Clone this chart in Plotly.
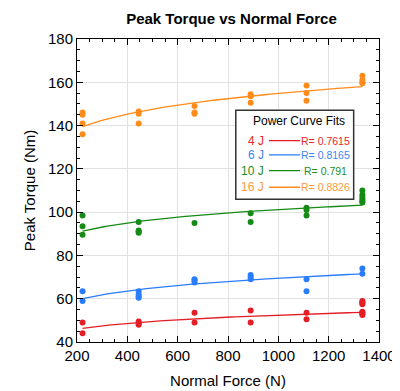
import numpy as np
import plotly.graph_objects as go

# ---- data ----
force_levels = [222, 445, 667, 890, 1112, 1334]

torque_4J = [[49, 44], [49.5, 48.5, 48], [53.5, 49], [54.5, 49], [53.5, 50.5],
             [59, 58.5, 58, 57.5, 54, 53.5, 53, 52.5]]
torque_6J = [[63.5, 59], [63.5, 62, 61, 60.5], [69, 68.5, 67.5], [71, 70, 69], [69, 63.5],
             [74, 71.5]]
torque_10J = [[98.5, 93.5, 89.5], [95.5, 91.5, 91, 90.5], [95], [99.5, 95.5], [102, 101, 98.5],
              [110, 108, 107, 106, 105, 104.5]]
torque_16J = [[146, 145, 141, 136], [146.5, 145.5, 141], [149, 146, 145.5], [154.5, 153.5, 150.5],
              [158.5, 155, 151.5], [163, 161, 160, 159.5]]

series_names = ["4 J", "6 J", "10 J", "16 J"]
r_labels = ["R= 0.7615", "R= 0.8165", "R= 0.791", "R= 0.8826"]
series_data = [torque_4J, torque_6J, torque_10J, torque_16J]

# power-curve fit values read at the first and last force level
fit_start = [46.3, 60.0, 91.2, 139.5]
fit_end = [53.7, 71.5, 103.2, 158.0]

colors = ["#e41e26", "#2a7cff", "#168a16", "#ff8c1a"]
text_colors = ["#e8262c", "#3a86f2", "#1e8c1e", "#ff9a3c"]

title = "Peak Torque vs Normal Force"
x_title = "Normal Force (N)"
y_title = "Peak Torque (Nm)"
legend_title = "Power Curve Fits"

# plot area in pixels
L, R, T, B = 69, 21, 31, 50
W, H = 400, 391
pw, ph = W - L - R, H - T - B

def px2paper(px, py):
    return (px - L) / pw, (H - B - py) / ph

fig = go.Figure()

xa, xb = force_levels[0], force_levels[-1]
for name, data, col, ys0, ys1 in zip(series_names, series_data, colors, fit_start, fit_end):
    xs, ys = [], []
    for xv, vals in zip(force_levels, data):
        xs += [xv] * len(vals)
        ys += vals
    # power curve y = a x^b through the read fit values
    b = np.log(ys1 / ys0) / np.log(xb / xa)
    a = ys0 / xa ** b
    xf = np.linspace(xa, xb, 80)
    yf = a * xf ** b
    fig.add_trace(go.Scatter(x=xf, y=yf, mode="lines", line=dict(color=col, width=1.3),
                             showlegend=False, hoverinfo="skip"))
    fig.add_trace(go.Scatter(x=xs, y=ys, mode="markers", name=name,
                             marker=dict(color=col, size=6), showlegend=False))

axis_common = dict(
    showline=True, linecolor="black", linewidth=1, mirror="ticks",
    ticks="inside", ticklen=6, tickcolor="black", tickwidth=1,
    showgrid=True, gridcolor="#e2e2e2", gridwidth=1, zeroline=False,
    tickfont=dict(family="Liberation Sans, Arial", size=15, color="black"),
)

fig.update_xaxes(range=[200, 1400], dtick=200, tick0=200,
                 minor=dict(dtick=50, ticks="inside", ticklen=3, tickcolor="black", showgrid=False),
                 title=dict(text=x_title, font=dict(family="Liberation Sans, Arial", size=15, color="black"),
                            standoff=12),
                 **axis_common)
fig.update_yaxes(range=[40, 180], dtick=20, tick0=40,
                 minor=dict(dtick=5, ticks="inside", ticklen=3, tickcolor="black", showgrid=False),
                 title=dict(text=y_title, font=dict(family="Liberation Sans, Arial", size=15, color="black"),
                            standoff=8),
                 **axis_common)

# legend box
x0, y0 = px2paper(232, 195)
x1, y1 = px2paper(353, 104)
fig.add_shape(type="rect", xref="paper", yref="paper", x0=x0, y0=y0, x1=x1, y1=y1,
              line=dict(color="#333333", width=1.5), fillcolor="white", layer="above")
tx, ty = px2paper(297, 115)
fig.add_annotation(xref="paper", yref="paper", x=tx, y=ty, text=legend_title, showarrow=False,
                   font=dict(family="Liberation Sans, Arial", size=12, color="black"),
                   xanchor="center", yanchor="middle")
row_y = [135, 149.5, 165.7, 182.7]
for name, rl, col, tcol, py in zip(series_names, r_labels, colors, text_colors, row_y):
    lx, ly = px2paper(263, py)
    fig.add_annotation(xref="paper", yref="paper", x=lx, y=ly, text=name, showarrow=False,
                       font=dict(family="Liberation Sans, Arial", size=12, color=tcol),
                       xanchor="right", yanchor="middle")
    sx0, sy = px2paper(266, py)
    sx1, _ = px2paper(298, py)
    fig.add_shape(type="line", xref="paper", yref="paper", x0=sx0, x1=sx1, y0=sy, y1=sy,
                  line=dict(color=col, width=1.3), layer="above")
    rx, _ = px2paper(324.5, py)
    fig.add_annotation(xref="paper", yref="paper", x=rx, y=ly, text=rl, showarrow=False,
                       font=dict(family="Liberation Sans, Arial", size=10.5, color=tcol),
                       xanchor="center", yanchor="middle")

fig.update_layout(
    width=W, height=H,
    margin=dict(l=L, r=R, t=T, b=B),
    paper_bgcolor="white", plot_bgcolor="white",
    title=dict(text="<b>" + title + "</b>", x=(223.5) / W, xanchor="center", y=1 - 11 / H, yanchor="middle",
               font=dict(family="Liberation Sans, Arial", size=15, color="black")),
    showlegend=False,
)

fig.write_html("out.html")
